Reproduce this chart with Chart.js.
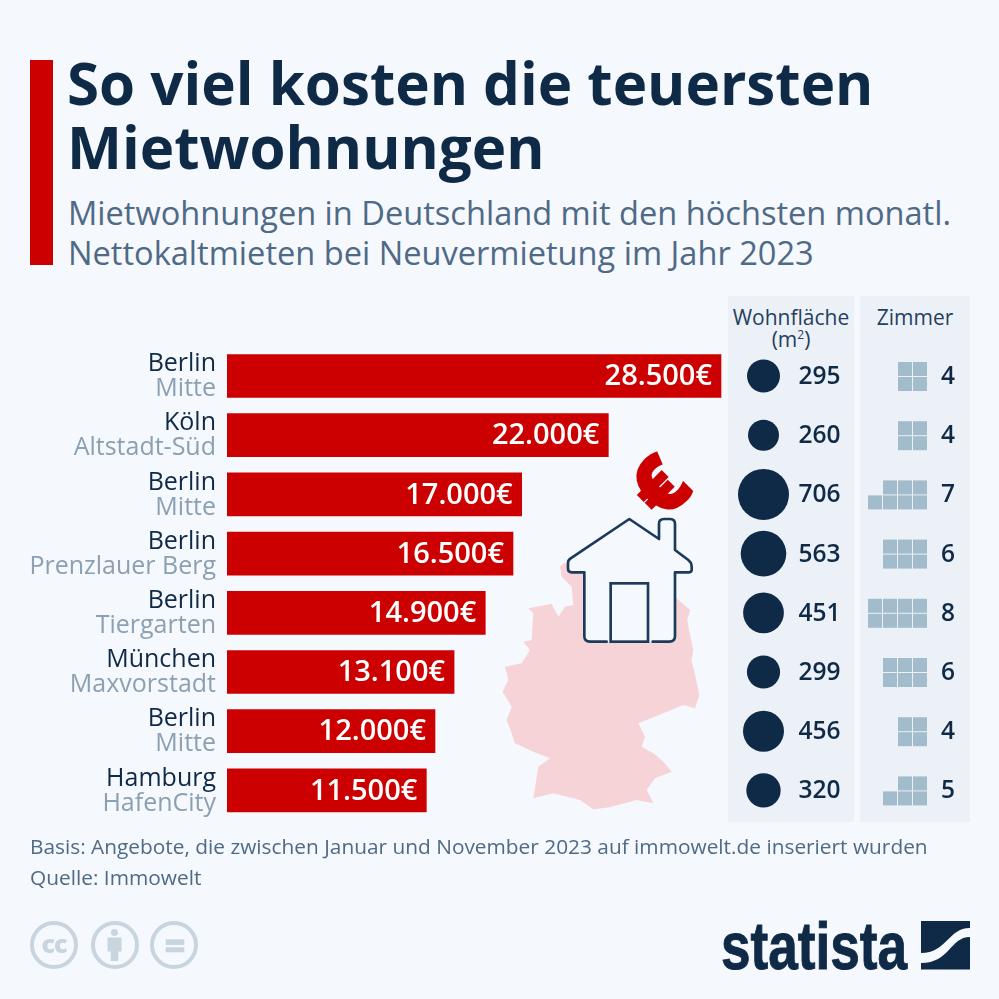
<!DOCTYPE html>
<html>
<head>
<meta charset="utf-8">
<title>Mietwohnungen</title>
<script src="https://cdn.jsdelivr.net/npm/chart.js"></script>
<style>
    html, body { margin: 0; padding: 0; background: #f5f8fc; }
    #page { position: relative; width: 999px; height: 999px; overflow: hidden; font-family: "Open Sans", sans-serif; background: #f5f8fc; }
    #page > * { position: absolute; }
    .accent { left: 30px; top: 60px; width: 23px; height: 205px; background: #cc0000; }
    .title { left: 67px; top: 51px; font-size: 58.3px; line-height: 64px; font-weight: 700; color: #0f2a47; white-space: nowrap; }
    .subtitle { left: 68px; top: 193px; font-size: 32.6px; line-height: 40px; color: #4f6a86; white-space: nowrap; }
    .panel { top: 296px; height: 526px; background: #ecf1f8; }
    .head { text-align: center; font-size: 21px; line-height: 22px; color: #25405e; top: 306px; }
    .note { left: 30px; font-size: 20.85px; line-height: 26px; color: #4f6a86; white-space: nowrap; }
    canvas { left: 0; top: 0; }
    svg { overflow: visible; }
</style>
</head>
<body>
<div id="page">
    <div class="accent"></div>
    <div class="title">So viel kosten die teuersten<br>Mietwohnungen</div>
    <div class="subtitle">Mietwohnungen in Deutschland mit den höchsten monatl.<br>Nettokaltmieten bei Neuvermietung im Jahr 2023</div>

    <div class="panel" style="left:728px;width:126px"></div>
    <div class="panel" style="left:860px;width:110px"></div>
    <div class="head" style="left:728px;width:126px">Wohnfläche<br>(m<sup style="font-size:12px;line-height:0">2</sup>)</div>
    <div class="head" style="left:860px;width:110px">Zimmer</div>

    <!-- Germany and the house, coordinates are 3x of the crop at 490,450 -->
    <svg style="left:490px;top:450px" width="230" height="370" viewBox="0 0 690 1110">
        <polygon fill="#f6d3d7" points="210,350 222,338 285,365 400,400 500,420 560,445 600,480 592,510 597,540 610,600 604,630 612,660 628,735 615,775 580,765 520,790 445,820 465,860 455,890 490,910 520,935 545,965 520,975 495,985 470,1020 490,1060 440,1050 360,1072 310,1078 270,1050 190,1030 130,1045 145,950 180,925 130,905 75,880 65,850 50,810 65,770 38,725 55,690 45,650 95,640 120,600 100,575 125,570 130,490 115,475 185,462 205,500 225,470 250,465 245,410 215,380"/>
        <path fill="#f5f8fc" stroke="#1b3a5c" stroke-width="8" stroke-linejoin="round" stroke-linecap="round"
            d="M350,575 L300,575 Q283,575 283,558 L283,367 L245,367 Q234,367 234,355 L234,338 Q234,330 242,325 L418,207 L507,267 L507,222 Q507,207 522,207 L540,207 Q555,207 555,222 L555,300 L595,330 Q605,338 605,350 L605,360 Q605,367 595,367 L555,367 L555,558 Q555,575 538,575 L488,575"/>
        <rect x="362" y="400" width="112" height="175" fill="none" stroke="#1b3a5c" stroke-width="8"/>
        <text x="502" y="104" transform="rotate(-45 502 104)" text-anchor="middle" dominant-baseline="central" font-family="Open Sans" font-weight="800" font-size="235" fill="#cc0000" stroke="#cc0000" stroke-width="6">€</text>
    </svg>

    <canvas id="chart" width="999" height="999"></canvas>

    <div class="note" style="top:833px">Basis: Angebote, die zwischen Januar und November 2023 auf immowelt.de inseriert wurden</div>
    <div class="note" style="top:864px">Quelle: Immowelt</div>

    <svg style="left:0;top:0" width="999" height="999">
        <g fill="none" stroke="#c8d5df" stroke-width="4">
            <circle cx="54" cy="945" r="22"/>
            <circle cx="115" cy="945" r="22"/>
            <circle cx="174" cy="945" r="22"/>
        </g>
        <text x="54" y="953" text-anchor="middle" font-family="Open Sans" font-weight="800" font-size="25" letter-spacing="-1" fill="#c8d5df">cc</text>
        <circle cx="114.5" cy="932.5" r="3.5" fill="#c8d5df"/>
        <rect x="107.5" y="937.5" width="14" height="14" fill="#c8d5df"/>
        <rect x="110.7" y="951" width="7.6" height="10" fill="#c8d5df"/>
        <rect x="165.7" y="939.3" width="18.6" height="5.7" fill="#c8d5df"/>
        <rect x="165.7" y="947.3" width="18.6" height="5" fill="#c8d5df"/>
        <text x="721" y="969" font-family="Liberation Sans" font-weight="700" font-size="67" fill="#0f2a47" stroke="#0f2a47" stroke-width="1" textLength="186" lengthAdjust="spacingAndGlyphs">statista</text>
        <rect x="921" y="921" width="49" height="48.5" fill="#0f2a47"/>
        <path fill="#f5f8fc" d="M970,928 C948,928 947,953 921,953 L921,963 C950,963 950,937 970,937 Z"/>
    </svg>
</div>

<script>
    const cities = ['Berlin', 'Köln', 'Berlin', 'Berlin', 'Berlin', 'München', 'Berlin', 'Hamburg'];
    const districts = ['Mitte', 'Altstadt-Süd', 'Mitte', 'Prenzlauer Berg', 'Tiergarten', 'Maxvorstadt', 'Mitte', 'HafenCity'];
    const rents = [28500, 22000, 17000, 16500, 14900, 13100, 12000, 11500];
    const areas = [295, 260, 706, 563, 451, 299, 456, 320];
    const rooms = [4, 4, 7, 6, 8, 6, 4, 5];

    const NAVY = '#0f2a47';
    const RED = '#cc0000';
    const MUTED = '#8ba0b2';
    const CELL = '#a3bccb';
    const FONT = '"Open Sans", sans-serif';

    // panel axis runs over the plot width, so the columns right of the bars sit on it
    const AREA_COL = 763.5 - 227;
    const AREA_TEXT = 819.5;
    const ROOM_RIGHT = 927;
    const ROOM_TEXT = 948;

    function fmt(v) {
        return String(v).replace(/\B(?=(\d{3})+$)/g, '.') + '€';
    }

    const tablePlugin = {
        id: 'table',
        afterDatasetsDraw(chart) {
            const { ctx } = chart;
            const y = chart.scales.y;
            const bars = chart.getDatasetMeta(0).data;
            ctx.save();
            ctx.textBaseline = 'middle';

            cities.forEach(function(city, i) {
                const cy = y.getPixelForValue(i);

                // row labels
                ctx.textAlign = 'right';
                ctx.font = '25px ' + FONT;
                ctx.fillStyle = NAVY;
                ctx.fillText(city, 216, cy - 12);
                ctx.fillStyle = MUTED;
                ctx.fillText(districts[i], 216, cy + 13);

                // value in the bar
                ctx.font = '600 29px ' + FONT;
                ctx.fillStyle = '#ffffff';
                ctx.fillText(fmt(rents[i]), bars[i].x - 9, cy + 1);

                // numbers of the two columns
                ctx.textAlign = 'center';
                ctx.font = '600 24.5px ' + FONT;
                ctx.fillStyle = NAVY;
                ctx.fillText(areas[i], AREA_TEXT, cy + 1);
                ctx.fillText(rooms[i], ROOM_TEXT, cy + 1);

                // room squares, the lower row fills up first
                ctx.fillStyle = CELL;
                const lower = Math.ceil(rooms[i] / 2);
                const upper = rooms[i] - lower;
                for (let n = 0; n < lower; n++) {
                    ctx.fillRect(ROOM_RIGHT - 14 - n * 15, cy + 1, 14, 14);
                }
                for (let n = 0; n < upper; n++) {
                    ctx.fillRect(ROOM_RIGHT - 14 - n * 15, cy - 14, 14, 14);
                }
            });
            ctx.restore();
        }
    };

    new Chart(document.getElementById('chart'), {
        type: 'bar',
        data: {
            labels: districts,
            datasets: [
                {
                    type: 'bar',
                    indexAxis: 'y',
                    data: rents,
                    backgroundColor: RED,
                    barThickness: 43,
                    grouped: false,
                    xAxisID: 'x',
                    yAxisID: 'y'
                },
                {
                    type: 'scatter',
                    data: areas.map(function(a, i) { return { x: AREA_COL, y: i }; }),
                    backgroundColor: NAVY,
                    borderWidth: 0,
                    pointRadius: function(c) { return 0.96 * Math.sqrt(areas[c.dataIndex]); },
                    clip: false,
                    xAxisID: 'xPanel',
                    yAxisID: 'y'
                }
            ]
        },
        options: {
            responsive: false,
            animation: false,
            events: [],
            layout: { padding: { left: 227, right: 29, top: 346.4, bottom: 179 } },
            plugins: { legend: { display: false }, tooltip: { enabled: false } },
            scales: {
                // 28.500 has to end at 721, the plot goes on to 970 for the columns
                x: { type: 'linear', display: false, offset: false, min: 0, max: 28500 * (970 - 227) / (721 - 227) },
                xPanel: { type: 'linear', axis: 'x', display: false, offset: false, min: 0, max: 970 - 227 },
                y: { type: 'category', display: false, offset: true }
            }
        },
        plugins: [tablePlugin]
    });
</script>
</body>
</html>
